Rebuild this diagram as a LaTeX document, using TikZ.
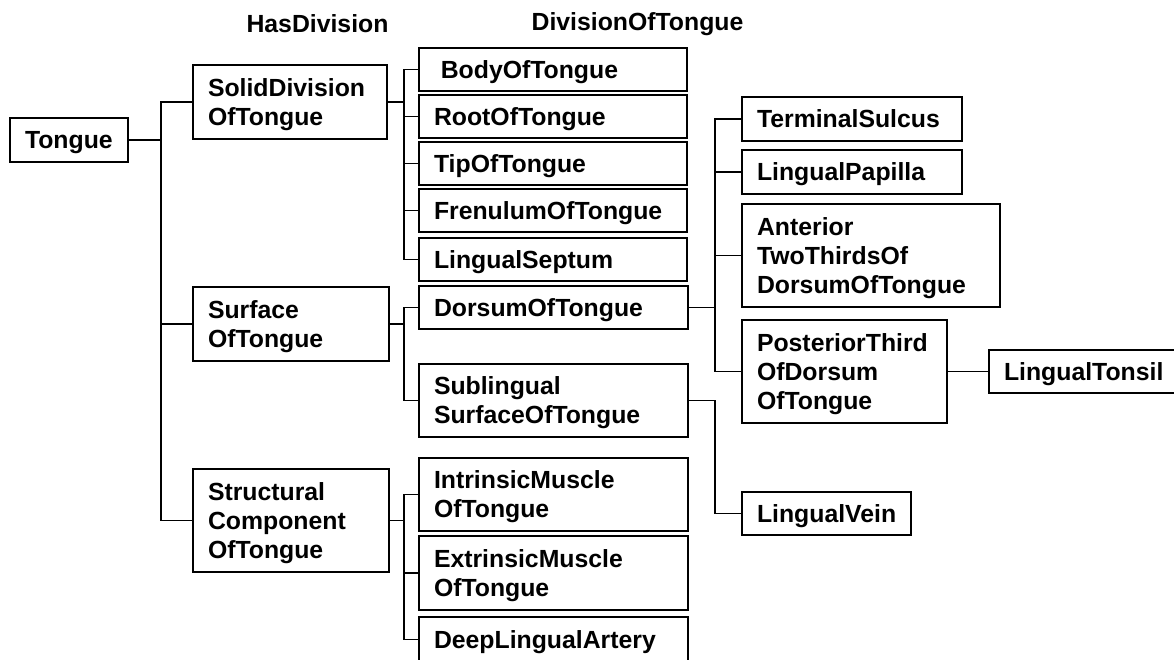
\documentclass[tikz,border=0pt]{standalone}
\usepackage{fontspec}
\setmainfont{Liberation Sans}
\begin{document}
\begin{tikzpicture}[x=1pt,y=-1pt,line width=1.4pt,
       box/.style={rectangle,draw,anchor=north west,align=left,text width=#1,
                   inner xsep=15pt,inner ysep=0pt,outer sep=0pt,
                   text height=22.9pt,execute at end node={\vphantom{g}}},
       head/.style={inner sep=0pt,text height=17.7pt,text depth=0pt},
       every node/.style={font=\bfseries\fontsize{24.8}{29}\selectfont}]
   \useasboundingbox (0,0) rectangle (1174,659);
   \node [head] (hasdiv) at (317.5,23.5) {HasDivision};
   \node [head] (divof) at (637.5,21.5) {DivisionOfTongue};

   \node [box=88pt,minimum height=44pt] (tongue) at (10,118) {Tongue};

   \node [box=164pt,minimum height=74pt] (solid) at (193,65) {SolidDivision\\OfTongue};
   \node [box=166pt,minimum height=74pt] (surface) at (193,287) {Surface\\OfTongue};
   \node [box=166pt,minimum height=103pt] (struct) at (193,469) {Structural\\Component\\OfTongue};

   \node [box=238pt,minimum height=43pt] (body) at (419,48) {\hspace*{6.8pt}BodyOfTongue};
   \node [box=238pt,minimum height=43pt] (root) at (419,95) {RootOfTongue};
   \node [box=238pt,minimum height=43pt] (tip) at (419,142) {TipOfTongue};
   \node [box=238pt,minimum height=43pt] (frenulum) at (419,189) {FrenulumOfTongue};
   \node [box=238pt,minimum height=43pt] (septum) at (419,238) {LingualSeptum};
   \node [box=239pt,minimum height=43pt] (dorsum) at (419,286) {DorsumOfTongue};
   \node [box=239pt,minimum height=73pt] (sublingual) at (419,364) {Sublingual\\SurfaceOfTongue};
   \node [box=239pt,minimum height=73pt] (intrinsic) at (419,458) {IntrinsicMuscle\\OfTongue};
   \node [box=239pt,minimum height=74pt] (extrinsic) at (419,536) {ExtrinsicMuscle\\OfTongue};
   \node [box=239pt,minimum height=45pt] (deep) at (419,617) {DeepLingualArtery};

   \node [box=190pt,minimum height=44pt] (terminal) at (742,97) {TerminalSulcus};
   \node [box=190pt,minimum height=44pt] (papilla) at (742,150) {LingualPapilla};
   \node [box=228pt,minimum height=103pt] (anterior) at (742,204) {Anterior\\TwoThirdsOf\\DorsumOfTongue};
   \node [box=175pt,minimum height=103pt] (posterior) at (742,320) {PosteriorThird\\OfDorsum\\OfTongue};
   \node [box=170pt,minimum height=43pt] (tonsil) at (989,350) {LingualTonsil};
   \node [box=139pt,minimum height=43pt] (vein) at (742,492) {LingualVein};

   \coordinate (jt) at (161,140);
   \coordinate (js) at (404,102);
   \coordinate (jf) at (404,324);
   \coordinate (jc) at (404,520.5);
   \coordinate (jd) at (715,307.5);
   \coordinate (jl) at (715,400.5);

   \draw (tongue.east) -- (jt);
   \foreach \c in {solid,surface,struct}
      \draw (\c.west) -| (jt);
   \draw (solid.east) -- (js);
   \foreach \c in {body,root,tip,frenulum,septum}
      \draw (\c.west) -| (js);
   \draw (surface.east) -- (jf);
   \foreach \c in {dorsum,sublingual}
      \draw (\c.west) -| (jf);
   \draw (struct.east) -- (jc);
   \foreach \c in {intrinsic,extrinsic,deep}
      \draw (\c.west) -| (jc);
   \draw (dorsum.east) -- (jd);
   \foreach \c in {terminal,papilla,anterior,posterior}
      \draw (\c.west) -| (jd);
   \draw (sublingual.east) -- (jl) |- (vein.west);
   \draw (posterior.east) -- (tonsil.west);
\end{tikzpicture}
\end{document}
